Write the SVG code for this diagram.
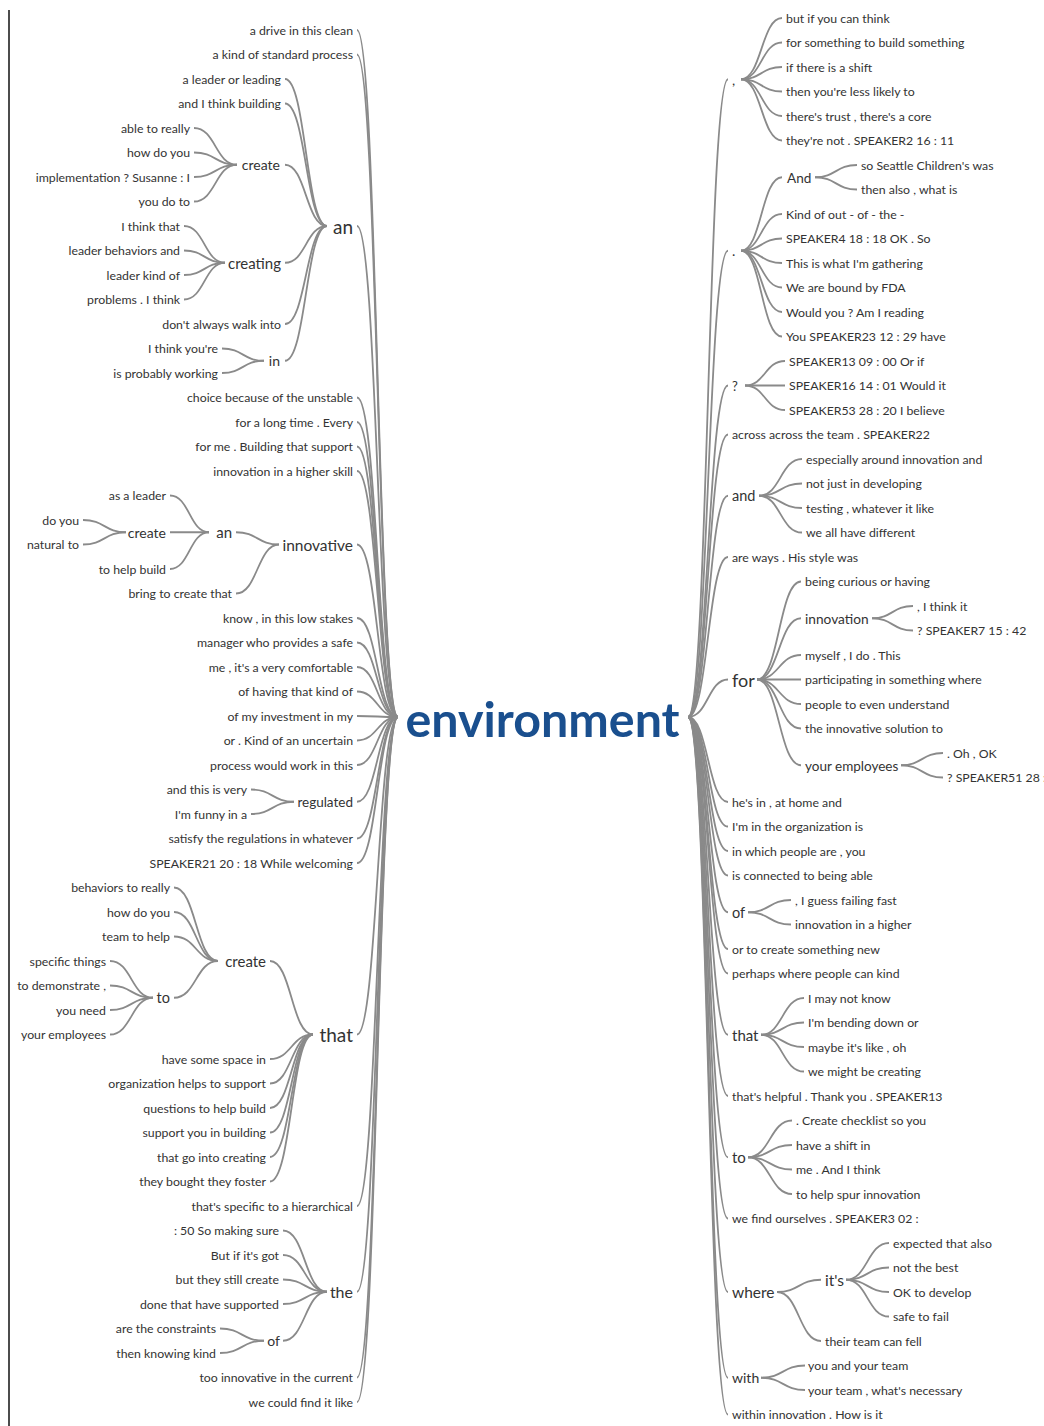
<svg xmlns="http://www.w3.org/2000/svg" width="1044" height="1426" viewBox="0 0 1044 1426">
<style>
text{font-family:Lato,"Open Sans","Liberation Sans",sans-serif;fill:#333;font-size:12.3px}
.e{text-anchor:end}
.root{font-size:48.4px;font-weight:bold;fill:#1a4f8e;text-anchor:middle}
#connectors path{fill:none;stroke:#8a8a8a;stroke-width:1.8}
</style>
<rect width="1044" height="1426" fill="#fff"/>
<line x1="9" y1="10" x2="9" y2="1426" stroke="#111" stroke-width="1.5"/>
<g id="connectors">
<path d="M357 30C377.5 30 377.5 717 398 717"/>
<path d="M357 54.5C377.5 54.5 377.5 717 398 717"/>
<path d="M357 226C377.5 226 377.5 717 398 717"/>
<path d="M357 397.5C377.5 397.5 377.5 717 398 717"/>
<path d="M357 422C377.5 422 377.5 717 398 717"/>
<path d="M357 446.5C377.5 446.5 377.5 717 398 717"/>
<path d="M357 471C377.5 471 377.5 717 398 717"/>
<path d="M357 544.5C377.5 544.5 377.5 717 398 717"/>
<path d="M357 618C377.5 618 377.5 717 398 717"/>
<path d="M357 642.5C377.5 642.5 377.5 717 398 717"/>
<path d="M357 667C377.5 667 377.5 717 398 717"/>
<path d="M357 691.5C377.5 691.5 377.5 717 398 717"/>
<path d="M357 716C377.5 716 377.5 717 398 717"/>
<path d="M357 740.5C377.5 740.5 377.5 717 398 717"/>
<path d="M357 765C377.5 765 377.5 717 398 717"/>
<path d="M357 801.75C377.5 801.75 377.5 717 398 717"/>
<path d="M357 838.5C377.5 838.5 377.5 717 398 717"/>
<path d="M357 863C377.5 863 377.5 717 398 717"/>
<path d="M357 1034.5C377.5 1034.5 377.5 717 398 717"/>
<path d="M357 1206C377.5 1206 377.5 717 398 717"/>
<path d="M357 1291.75C377.5 1291.75 377.5 717 398 717"/>
<path d="M357 1377.5C377.5 1377.5 377.5 717 398 717"/>
<path d="M357 1402C377.5 1402 377.5 717 398 717"/>
<path d="M285 79C306 79 306 226 327 226"/>
<path d="M285 103.5C306 103.5 306 226 327 226"/>
<path d="M285 164.75C306 164.75 306 226 327 226"/>
<path d="M285 262.75C306 262.75 306 226 327 226"/>
<path d="M285 324C306 324 306 226 327 226"/>
<path d="M285 360.75C306 360.75 306 226 327 226"/>
<path d="M194 128C215.5 128 215.5 164.75 237 164.75"/>
<path d="M194 152.5C215.5 152.5 215.5 164.75 237 164.75"/>
<path d="M194 177C215.5 177 215.5 164.75 237 164.75"/>
<path d="M194 201.5C215.5 201.5 215.5 164.75 237 164.75"/>
<path d="M184 226C204.5 226 204.5 262.75 225 262.75"/>
<path d="M184 250.5C204.5 250.5 204.5 262.75 225 262.75"/>
<path d="M184 275C204.5 275 204.5 262.75 225 262.75"/>
<path d="M184 299.5C204.5 299.5 204.5 262.75 225 262.75"/>
<path d="M222 348.5C243 348.5 243 360.75 264 360.75"/>
<path d="M222 373C243 373 243 360.75 264 360.75"/>
<path d="M236 532.25C257.5 532.25 257.5 544.5 279 544.5"/>
<path d="M236 593.5C257.5 593.5 257.5 544.5 279 544.5"/>
<path d="M170 495.5C189.5 495.5 189.5 532.25 209 532.25"/>
<path d="M170 532.25C189.5 532.25 189.5 532.25 209 532.25"/>
<path d="M170 569C189.5 569 189.5 532.25 209 532.25"/>
<path d="M83 520C104.5 520 104.5 532.25 126 532.25"/>
<path d="M83 544.5C104.5 544.5 104.5 532.25 126 532.25"/>
<path d="M251 789.5C272.5 789.5 272.5 801.75 294 801.75"/>
<path d="M251 814C272.5 814 272.5 801.75 294 801.75"/>
<path d="M270 961C291.5 961 291.5 1034.5 313 1034.5"/>
<path d="M270 1059C291.5 1059 291.5 1034.5 313 1034.5"/>
<path d="M270 1083.5C291.5 1083.5 291.5 1034.5 313 1034.5"/>
<path d="M270 1108C291.5 1108 291.5 1034.5 313 1034.5"/>
<path d="M270 1132.5C291.5 1132.5 291.5 1034.5 313 1034.5"/>
<path d="M270 1157C291.5 1157 291.5 1034.5 313 1034.5"/>
<path d="M270 1181.5C291.5 1181.5 291.5 1034.5 313 1034.5"/>
<path d="M174 887.5C196 887.5 196 961 218 961"/>
<path d="M174 912C196 912 196 961 218 961"/>
<path d="M174 936.5C196 936.5 196 961 218 961"/>
<path d="M174 997.75C196 997.75 196 961 218 961"/>
<path d="M110 961C131.5 961 131.5 997.75 153 997.75"/>
<path d="M110 985.5C131.5 985.5 131.5 997.75 153 997.75"/>
<path d="M110 1010C131.5 1010 131.5 997.75 153 997.75"/>
<path d="M110 1034.5C131.5 1034.5 131.5 997.75 153 997.75"/>
<path d="M283 1230.5C305 1230.5 305 1291.75 327 1291.75"/>
<path d="M283 1255C305 1255 305 1291.75 327 1291.75"/>
<path d="M283 1279.5C305 1279.5 305 1291.75 327 1291.75"/>
<path d="M283 1304C305 1304 305 1291.75 327 1291.75"/>
<path d="M283 1340.75C305 1340.75 305 1291.75 327 1291.75"/>
<path d="M220 1328.5C242 1328.5 242 1340.75 264 1340.75"/>
<path d="M220 1353C242 1353 242 1340.75 264 1340.75"/>
<path d="M688 717C708 717 708 79.25 728 79.25"/>
<path d="M688 717C708 717 708 250.75 728 250.75"/>
<path d="M688 717C708 717 708 385.5 728 385.5"/>
<path d="M688 717C708 717 708 434.5 728 434.5"/>
<path d="M688 717C708 717 708 495.75 728 495.75"/>
<path d="M688 717C708 717 708 557 728 557"/>
<path d="M688 717C708 717 708 679.5 728 679.5"/>
<path d="M688 717C708 717 708 802 728 802"/>
<path d="M688 717C708 717 708 826.5 728 826.5"/>
<path d="M688 717C708 717 708 851 728 851"/>
<path d="M688 717C708 717 708 875.5 728 875.5"/>
<path d="M688 717C708 717 708 912.25 728 912.25"/>
<path d="M688 717C708 717 708 949 728 949"/>
<path d="M688 717C708 717 708 973.5 728 973.5"/>
<path d="M688 717C708 717 708 1034.75 728 1034.75"/>
<path d="M688 717C708 717 708 1096 728 1096"/>
<path d="M688 717C708 717 708 1157.25 728 1157.25"/>
<path d="M688 717C708 717 708 1218.5 728 1218.5"/>
<path d="M688 717C708 717 708 1292 728 1292"/>
<path d="M688 717C708 717 708 1377.75 728 1377.75"/>
<path d="M688 717C708 717 708 1414.5 728 1414.5"/>
<path d="M741 79.25C761.5 79.25 761.5 18 782 18"/>
<path d="M741 79.25C761.5 79.25 761.5 42.5 782 42.5"/>
<path d="M741 79.25C761.5 79.25 761.5 67 782 67"/>
<path d="M741 79.25C761.5 79.25 761.5 91.5 782 91.5"/>
<path d="M741 79.25C761.5 79.25 761.5 116 782 116"/>
<path d="M741 79.25C761.5 79.25 761.5 140.5 782 140.5"/>
<path d="M741 250.75C761.5 250.75 761.5 177.25 782 177.25"/>
<path d="M741 250.75C761.5 250.75 761.5 214 782 214"/>
<path d="M741 250.75C761.5 250.75 761.5 238.5 782 238.5"/>
<path d="M741 250.75C761.5 250.75 761.5 263 782 263"/>
<path d="M741 250.75C761.5 250.75 761.5 287.5 782 287.5"/>
<path d="M741 250.75C761.5 250.75 761.5 312 782 312"/>
<path d="M741 250.75C761.5 250.75 761.5 336.5 782 336.5"/>
<path d="M815 177.25C836 177.25 836 165 857 165"/>
<path d="M815 177.25C836 177.25 836 189.5 857 189.5"/>
<path d="M745 385.5C765 385.5 765 361 785 361"/>
<path d="M745 385.5C765 385.5 765 385.5 785 385.5"/>
<path d="M745 385.5C765 385.5 765 410 785 410"/>
<path d="M759 495.75C780.5 495.75 780.5 459 802 459"/>
<path d="M759 495.75C780.5 495.75 780.5 483.5 802 483.5"/>
<path d="M759 495.75C780.5 495.75 780.5 508 802 508"/>
<path d="M759 495.75C780.5 495.75 780.5 532.5 802 532.5"/>
<path d="M757 679.5C779 679.5 779 581.5 801 581.5"/>
<path d="M757 679.5C779 679.5 779 618.25 801 618.25"/>
<path d="M757 679.5C779 679.5 779 655 801 655"/>
<path d="M757 679.5C779 679.5 779 679.5 801 679.5"/>
<path d="M757 679.5C779 679.5 779 704 801 704"/>
<path d="M757 679.5C779 679.5 779 728.5 801 728.5"/>
<path d="M757 679.5C779 679.5 779 765.25 801 765.25"/>
<path d="M872 618.25C892.5 618.25 892.5 606 913 606"/>
<path d="M872 618.25C892.5 618.25 892.5 630.5 913 630.5"/>
<path d="M901 765.25C922 765.25 922 753 943 753"/>
<path d="M901 765.25C922 765.25 922 777.5 943 777.5"/>
<path d="M748 912.25C769.5 912.25 769.5 900 791 900"/>
<path d="M748 912.25C769.5 912.25 769.5 924.5 791 924.5"/>
<path d="M761 1034.75C782.5 1034.75 782.5 998 804 998"/>
<path d="M761 1034.75C782.5 1034.75 782.5 1022.5 804 1022.5"/>
<path d="M761 1034.75C782.5 1034.75 782.5 1047 804 1047"/>
<path d="M761 1034.75C782.5 1034.75 782.5 1071.5 804 1071.5"/>
<path d="M748 1157.25C770 1157.25 770 1120.5 792 1120.5"/>
<path d="M748 1157.25C770 1157.25 770 1145 792 1145"/>
<path d="M748 1157.25C770 1157.25 770 1169.5 792 1169.5"/>
<path d="M748 1157.25C770 1157.25 770 1194 792 1194"/>
<path d="M777 1292C799 1292 799 1279.75 821 1279.75"/>
<path d="M777 1292C799 1292 799 1341 821 1341"/>
<path d="M846 1279.75C867.5 1279.75 867.5 1243 889 1243"/>
<path d="M846 1279.75C867.5 1279.75 867.5 1267.5 889 1267.5"/>
<path d="M846 1279.75C867.5 1279.75 867.5 1292 889 1292"/>
<path d="M846 1279.75C867.5 1279.75 867.5 1316.5 889 1316.5"/>
<path d="M761 1377.75C783 1377.75 783 1365.5 805 1365.5"/>
<path d="M761 1377.75C783 1377.75 783 1390 805 1390"/>
</g>
<g id="root"><text class="root" x="542.5" y="737">environment</text></g>
<g id="L01"><text class="e" x="353" y="34.5">a drive in this clean</text></g>
<g id="L02"><text class="e" x="353" y="59">a kind of standard process</text></g>
<g id="L-an"><text class="e" x="353" y="233.5" style="font-size:19px">an</text></g>
<g id="L03"><text class="e" x="281" y="83.5">a leader or leading</text></g>
<g id="L04"><text class="e" x="281" y="108">and I think building</text></g>
<g id="L-an-create"><text class="e" x="280" y="170.3" style="font-size:14px">create</text></g>
<g id="L05"><text class="e" x="190" y="132.5">able to really</text></g>
<g id="L06"><text class="e" x="190" y="157">how do you</text></g>
<g id="L07"><text class="e" x="190" y="181.5">implementation ? Susanne : I</text></g>
<g id="L08"><text class="e" x="190" y="206">you do to</text></g>
<g id="L-an-creating"><text class="e" x="281" y="268.5" style="font-size:15px">creating</text></g>
<g id="L09"><text class="e" x="180" y="230.5">I think that</text></g>
<g id="L10"><text class="e" x="180" y="255">leader behaviors and</text></g>
<g id="L11"><text class="e" x="180" y="279.5">leader kind of</text></g>
<g id="L12"><text class="e" x="180" y="304">problems . I think</text></g>
<g id="L13"><text class="e" x="281" y="328.5">don't always walk into</text></g>
<g id="L-an-in"><text class="e" x="280" y="366.3" style="font-size:14px">in</text></g>
<g id="L14"><text class="e" x="218" y="353">I think you're</text></g>
<g id="L15"><text class="e" x="218" y="377.5">is probably working</text></g>
<g id="L16"><text class="e" x="353" y="402">choice because of the unstable</text></g>
<g id="L17"><text class="e" x="353" y="426.5">for a long time . Every</text></g>
<g id="L18"><text class="e" x="353" y="451">for me . Building that support</text></g>
<g id="L19"><text class="e" x="353" y="475.5">innovation in a higher skill</text></g>
<g id="L-innovative"><text class="e" x="353" y="550.5" style="font-size:15.5px">innovative</text></g>
<g id="L-inn-an"><text class="e" x="232" y="538" style="font-size:15px">an</text></g>
<g id="L20"><text class="e" x="166" y="500">as a leader</text></g>
<g id="L-inn-create"><text class="e" x="166" y="537.8" style="font-size:14px">create</text></g>
<g id="L21"><text class="e" x="79" y="524.5">do you</text></g>
<g id="L22"><text class="e" x="79" y="549">natural to</text></g>
<g id="L23"><text class="e" x="166" y="573.5">to help build</text></g>
<g id="L24"><text class="e" x="232" y="598">bring to create that</text></g>
<g id="L25"><text class="e" x="353" y="622.5">know , in this low stakes</text></g>
<g id="L26"><text class="e" x="353" y="647">manager who provides a safe</text></g>
<g id="L27"><text class="e" x="353" y="671.5">me , it's a very comfortable</text></g>
<g id="L28"><text class="e" x="353" y="696">of having that kind of</text></g>
<g id="L29"><text class="e" x="353" y="720.5">of my investment in my</text></g>
<g id="L30"><text class="e" x="353" y="745">or . Kind of an uncertain</text></g>
<g id="L31"><text class="e" x="353" y="769.5">process would work in this</text></g>
<g id="L-regulated"><text class="e" x="353" y="806.8" style="font-size:13.5px">regulated</text></g>
<g id="L32"><text class="e" x="247" y="794">and this is very</text></g>
<g id="L33"><text class="e" x="247" y="818.5">I'm funny in a</text></g>
<g id="L34"><text class="e" x="353" y="843">satisfy the regulations in whatever</text></g>
<g id="L35"><text class="e" x="353" y="867.5">SPEAKER21 20 : 18 While welcoming</text></g>
<g id="L-that"><text class="e" x="353" y="1042" style="font-size:19px">that</text></g>
<g id="L-that-create"><text class="e" x="266" y="966.7" style="font-size:15px">create</text></g>
<g id="L36"><text class="e" x="170" y="892">behaviors to really</text></g>
<g id="L37"><text class="e" x="170" y="916.5">how do you</text></g>
<g id="L38"><text class="e" x="170" y="941">team to help</text></g>
<g id="L-that-to"><text class="e" x="170" y="1003.3" style="font-size:14.5px">to</text></g>
<g id="L39"><text class="e" x="106" y="965.5">specific things</text></g>
<g id="L40"><text class="e" x="106" y="990">to demonstrate ,</text></g>
<g id="L41"><text class="e" x="106" y="1014.5">you need</text></g>
<g id="L42"><text class="e" x="106" y="1039">your employees</text></g>
<g id="L43"><text class="e" x="266" y="1063.5">have some space in</text></g>
<g id="L44"><text class="e" x="266" y="1088">organization helps to support</text></g>
<g id="L45"><text class="e" x="266" y="1112.5">questions to help build</text></g>
<g id="L46"><text class="e" x="266" y="1137">support you in building</text></g>
<g id="L47"><text class="e" x="266" y="1161.5">that go into creating</text></g>
<g id="L48"><text class="e" x="266" y="1186">they bought they foster</text></g>
<g id="L49"><text class="e" x="353" y="1210.5">that's specific to a hierarchical</text></g>
<g id="L-the"><text class="e" x="353" y="1297.8" style="font-size:16px">the</text></g>
<g id="L50"><text class="e" x="279" y="1235">: 50 So making sure</text></g>
<g id="L51"><text class="e" x="279" y="1259.5">But if it's got</text></g>
<g id="L52"><text class="e" x="279" y="1284">but they still create</text></g>
<g id="L53"><text class="e" x="279" y="1308.5">done that have supported</text></g>
<g id="L-the-of"><text class="e" x="280" y="1346.3" style="font-size:14px">of</text></g>
<g id="L54"><text class="e" x="216" y="1333">are the constraints</text></g>
<g id="L55"><text class="e" x="216" y="1357.5">then knowing kind</text></g>
<g id="L56"><text class="e" x="353" y="1382">too innovative in the current</text></g>
<g id="L57"><text class="e" x="353" y="1406.5">we could find it like</text></g>
<g id="R-comma"><text x="732" y="84.8" style="font-size:14px">,</text></g>
<g id="R01"><text x="786" y="22.5">but if you can think</text></g>
<g id="R02"><text x="786" y="47">for something to build something</text></g>
<g id="R03"><text x="786" y="71.5">if there is a shift</text></g>
<g id="R04"><text x="786" y="96">then you're less likely to</text></g>
<g id="R05"><text x="786" y="120.5">there's trust , there's a core</text></g>
<g id="R06"><text x="786" y="145">they're not . SPEAKER2 16 : 11</text></g>
<g id="R-period"><text x="732" y="256.3" style="font-size:14px">.</text></g>
<g id="R-And"><text x="787" y="182.5" style="font-size:13.6px">And</text></g>
<g id="R07"><text x="861" y="169.5">so Seattle Children's was</text></g>
<g id="R08"><text x="861" y="194">then also , what is</text></g>
<g id="R09"><text x="786" y="218.5">Kind of out - of - the -</text></g>
<g id="R10"><text x="786" y="243">SPEAKER4 18 : 18 OK . So</text></g>
<g id="R11"><text x="786" y="267.5">This is what I'm gathering</text></g>
<g id="R12"><text x="786" y="292">We are bound by FDA</text></g>
<g id="R13"><text x="786" y="316.5">Would you ? Am I reading</text></g>
<g id="R14"><text x="786" y="341">You SPEAKER23 12 : 29 have</text></g>
<g id="R-q"><text x="732" y="390.5" style="font-size:13px">?</text></g>
<g id="R15"><text x="789" y="365.5">SPEAKER13 09 : 00 Or if</text></g>
<g id="R16"><text x="789" y="390">SPEAKER16 14 : 01 Would it</text></g>
<g id="R17"><text x="789" y="414.5">SPEAKER53 28 : 20 I believe</text></g>
<g id="R18"><text x="732" y="439">across across the team . SPEAKER22</text></g>
<g id="R-and"><text x="732" y="501.3" style="font-size:14.5px">and</text></g>
<g id="R19"><text x="806" y="463.5">especially around innovation and</text></g>
<g id="R20"><text x="806" y="488">not just in developing</text></g>
<g id="R21"><text x="806" y="512.5">testing , whatever it like</text></g>
<g id="R22"><text x="806" y="537">we all have different</text></g>
<g id="R23"><text x="732" y="561.5">are ways . His style was</text></g>
<g id="R-for"><text x="732" y="686.5" style="font-size:18px">for</text></g>
<g id="R24"><text x="805" y="586">being curious or having</text></g>
<g id="R-innovation"><text x="805" y="623.5" style="font-size:13.7px">innovation</text></g>
<g id="R25"><text x="917" y="610.5">, I think it</text></g>
<g id="R26"><text x="917" y="635">? SPEAKER7 15 : 42</text></g>
<g id="R27"><text x="805" y="659.5">myself , I do . This</text></g>
<g id="R28"><text x="805" y="684">participating in something where</text></g>
<g id="R29"><text x="805" y="708.5">people to even understand</text></g>
<g id="R30"><text x="805" y="733">the innovative solution to</text></g>
<g id="R-youremployees"><text x="805" y="770.5" style="font-size:13.5px">your employees</text></g>
<g id="R31"><text x="947" y="757.5">. Oh , OK</text></g>
<g id="R32"><text x="947" y="782">? SPEAKER51 28 :</text></g>
<g id="R33"><text x="732" y="806.5">he's in , at home and</text></g>
<g id="R34"><text x="732" y="831">I'm in the organization is</text></g>
<g id="R35"><text x="732" y="855.5">in which people are , you</text></g>
<g id="R36"><text x="732" y="880">is connected to being able</text></g>
<g id="R-of"><text x="732" y="917.8" style="font-size:14.5px">of</text></g>
<g id="R37"><text x="795" y="904.5">, I guess failing fast</text></g>
<g id="R38"><text x="795" y="929">innovation in a higher</text></g>
<g id="R39"><text x="732" y="953.5">or to create something new</text></g>
<g id="R40"><text x="732" y="978">perhaps where people can kind</text></g>
<g id="R-that"><text x="732" y="1040.5" style="font-size:15px">that</text></g>
<g id="R41"><text x="808" y="1002.5">I may not know</text></g>
<g id="R42"><text x="808" y="1027">I'm bending down or</text></g>
<g id="R43"><text x="808" y="1051.5">maybe it's like , oh</text></g>
<g id="R44"><text x="808" y="1076">we might be creating</text></g>
<g id="R45"><text x="732" y="1100.5">that's helpful . Thank you . SPEAKER13</text></g>
<g id="R-to"><text x="732" y="1163" style="font-size:15px">to</text></g>
<g id="R46"><text x="796" y="1125">. Create checklist so you</text></g>
<g id="R47"><text x="796" y="1149.5">have a shift in</text></g>
<g id="R48"><text x="796" y="1174">me . And I think</text></g>
<g id="R49"><text x="796" y="1198.5">to help spur innovation</text></g>
<g id="R50"><text x="732" y="1223">we find ourselves . SPEAKER3 02 :</text></g>
<g id="R-where"><text x="732" y="1298" style="font-size:15.5px">where</text></g>
<g id="R-its"><text x="825" y="1285.8" style="font-size:15.5px">it's</text></g>
<g id="R51"><text x="893" y="1247.5">expected that also</text></g>
<g id="R52"><text x="893" y="1272">not the best</text></g>
<g id="R53"><text x="893" y="1296.5">OK to develop</text></g>
<g id="R54"><text x="893" y="1321">safe to fail</text></g>
<g id="R55"><text x="825" y="1345.5">their team can fell</text></g>
<g id="R-with"><text x="732" y="1383.3" style="font-size:14px">with</text></g>
<g id="R56"><text x="808" y="1370">you and your team</text></g>
<g id="R57"><text x="808" y="1394.5">your team , what's necessary</text></g>
<g id="R58"><text x="732" y="1419">within innovation . How is it</text></g>
</svg>
